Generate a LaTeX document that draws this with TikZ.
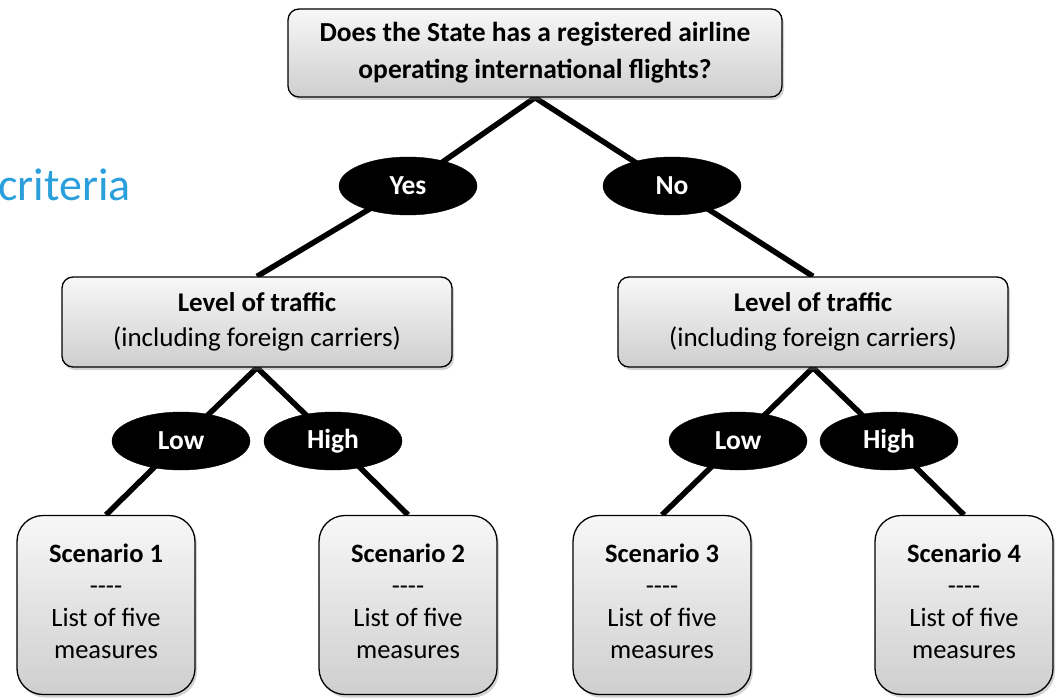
\documentclass[tikz,border=0pt]{standalone}
\usepackage{fontspec}
\setmainfont{Carlito}
\usetikzlibrary{shapes.geometric,shadows,backgrounds}
\definecolor{criteriablue}{HTML}{2A9FDB}
\tikzset{
  greybox/.style={draw=black, line width=1.3pt, top color=gray!6, bottom color=gray!38,
    align=center, inner sep=0pt,
    drop shadow={shadow xshift=2pt, shadow yshift=-3pt, opacity=0.35}},
  question/.style={greybox, rounded corners=11pt, minimum width=494pt, minimum height=88pt,
    font=\fontsize{27.5}{37}\selectfont\bfseries},
  levelbox/.style={greybox, rounded corners=11pt, minimum width=390pt, minimum height=90pt,
    font=\fontsize{27}{35}\selectfont},
  scenario/.style={greybox, rounded corners=26pt, minimum width=178pt, minimum height=179pt},
  scentext/.style={align=center, inner sep=0pt, yshift=4pt,
    font=\fontsize{26.5}{32}\selectfont},
  answer/.style={ellipse, fill=black, draw=black, minimum width=138pt, minimum height=58pt,
    inner sep=0pt, text=white, font=\fontsize{27.5}{30}\selectfont\bfseries},
  branch/.style={line width=5.5pt, black}
}
\newcommand{\sepline}{-{}-{}-{}-}
\newcommand{\scentxt}[1]{\textbf{Scenario #1}\\\sepline\\List of five\\measures}
\begin{document}
\begin{tikzpicture}[x=1pt, y=-1pt]
\useasboundingbox (0,0) rectangle (1056,698);

\node[anchor=base west, text=criteriablue, font=\fontsize{46}{52}\selectfont, inner sep=0pt]
  (crit) at (-2,200) {criteria};

\node[question] (q) at (535,53) {Does the State has a registered airline\\operating international flights?};

\node[answer] (yes) at (408,186) {Yes};
\node[answer] (no) at (672,186) {No};

\node[levelbox] (lvlL) at (257,322) {\textbf{Level of traffic}\\(including foreign carriers)};
\node[levelbox] (lvlR) at (813,322) {\textbf{Level of traffic}\\(including foreign carriers)};

\node[answer] (lowL) at (181,441) {Low};
\node[answer] (highL) at (333,441) {High};
\node[answer] (lowR) at (738,441) {Low};
\node[answer] (highR) at (889,441) {High};

\node[scenario, label={[scentext]center:{\scentxt{1}}}] (s1) at (106,605) {};
\node[scenario, label={[scentext]center:{\scentxt{2}}}] (s2) at (408,605) {};
\node[scenario, label={[scentext]center:{\scentxt{3}}}] (s3) at (662,605) {};
\node[scenario, label={[scentext]center:{\scentxt{4}}}] (s4) at (964,605) {};

\begin{scope}[on background layer]
  \draw[branch] (q.south) -- (yes.center) -- (lvlL.north);
  \draw[branch] (q.south) -- (no.center) -- (lvlR.north);
  \draw[branch] (lvlL.south) -- (lowL.center) -- (s1.north);
  \draw[branch] (lvlL.south) -- (highL.center) -- (s2.north);
  \draw[branch] (lvlR.south) -- (lowR.center) -- (s3.north);
  \draw[branch] (lvlR.south) -- (highR.center) -- (s4.north);
\end{scope}
\end{tikzpicture}
\end{document}
